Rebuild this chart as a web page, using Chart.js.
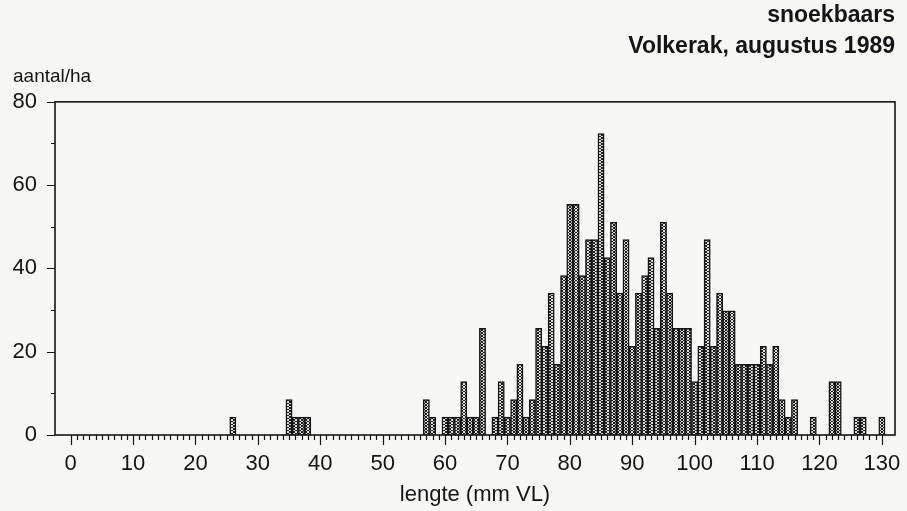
<!DOCTYPE html>
<html>
<head>
<meta charset="utf-8">
<title>snoekbaars – Volkerak, augustus 1989</title>
<script src="https://cdn.jsdelivr.net/npm/chart.js@4.4.1/dist/chart.umd.min.js"></script>
<style>
  html, body { margin: 0; padding: 0; background: #f7f7f5; }
  canvas { display: block; }
</style>
</head>
<body>
<canvas id="chart" width="907" height="511"></canvas>
<script>
// Length classes (mm VL) that hold fish, and their density in aantal/ha
const lengte = [
  26, 35, 36, 37, 38,
  57, 58, 60, 61, 62, 63, 64, 65, 66, 68, 69,
  70, 71, 72, 73, 74, 75, 76, 77, 78, 79,
  80, 81, 82, 83, 84, 85, 86, 87, 88, 89,
  90, 91, 92, 93, 94, 95, 96, 97, 98, 99,
  100, 101, 102, 103, 104, 105, 106, 107, 108, 109,
  110, 111, 112, 113, 114, 115, 116, 119,
  122, 123, 126, 127, 130
];
const aantal = [
  4.3, 8.5, 4.3, 4.3, 4.3,
  8.5, 4.3, 4.3, 4.3, 4.3, 12.8, 4.3, 4.3, 25.6, 4.3, 12.8,
  4.3, 8.5, 17.0, 4.3, 8.5, 25.6, 21.3, 34.1, 17.0, 38.3,
  55.4, 55.4, 38.3, 46.9, 46.9, 72.4, 42.6, 51.1, 34.1, 46.9,
  21.3, 34.1, 38.3, 42.6, 25.6, 51.1, 34.1, 25.6, 25.6, 25.6,
  12.8, 21.3, 46.9, 21.3, 34.1, 29.8, 29.8, 17.0, 17.0, 17.0,
  17.0, 21.3, 17.0, 21.3, 8.5, 4.3, 8.5, 4.3,
  12.8, 12.8, 4.3, 4.3, 4.3
];

// Axis tick labels
const xTickLabels = [0, 10, 20, 30, 40, 50, 60, 70, 80, 90, 100, 110, 120, 130];
const yTickLabels = [0, 20, 40, 60, 80];

const titleLines = ['snoekbaars', 'Volkerak, augustus 1989'];
const yTitle = 'aantal/ha';
const xTitle = 'lengte (mm VL)';

const ink = '#141414';
const family = '"Liberation Sans", Arial, Helvetica, sans-serif';

// Stippled fill for the bars: small rings repeated in a tile
function stipple() {
  const c = document.createElement('canvas');
  c.width = 4; c.height = 3;
  const g = c.getContext('2d');
  g.fillStyle = '#dddddb';
  g.fillRect(0, 0, 4, 3);
  g.fillStyle = '#1f1f1f';
  [[1,0],[2,0],[0,1],[3,1],[1,2],[2,2]].forEach(([px, py]) => g.fillRect(px, py, 1, 1));
  return g.createPattern(c, 'repeat');
}

// Frame round the plot plus minor/major tick marks on both axes
const axisMarks = {
  id: 'axisMarks',
  afterDraw(chart) {
    const { ctx, chartArea: a, scales: { x, y } } = chart;
    ctx.save();
    ctx.strokeStyle = ink;
    ctx.lineWidth = 1.6;
    ctx.strokeRect(a.left, a.top, a.right - a.left, a.bottom - a.top);
    ctx.lineWidth = 1.2;
    ctx.beginPath();
    for (let v = xTickLabels[0]; v <= xTickLabels[xTickLabels.length - 1]; v++) {
      const px = Math.round(x.getPixelForValue(v)) + 0.5;
      const len = v % 10 === 0 ? 10 : 5;
      ctx.moveTo(px, a.bottom);
      ctx.lineTo(px, a.bottom + len);
    }
    for (let v = 0; v <= 80; v += 10) {
      const py = Math.round(y.getPixelForValue(v)) + 0.5;
      const len = v % 20 === 0 ? 8 : 4;
      ctx.moveTo(a.left, py);
      ctx.lineTo(a.left - len, py);
    }
    ctx.stroke();
    ctx.restore();
  }
};

new Chart(document.getElementById('chart'), {
  type: 'bar',
  data: {
    datasets: [{
      data: lengte.map((v, i) => ({ x: v, y: aantal[i] })),
      backgroundColor: stipple(),
      borderColor: ink,
      borderWidth: 1.5,
      barPercentage: 1,
      categoryPercentage: 1
    }]
  },
  options: {
    responsive: false,
    animation: false,
    layout: { padding: { left: 13, right: 12, top: 0, bottom: 0 } },
    plugins: {
      legend: { display: false },
      tooltip: { enabled: false },
      title: {
        display: true,
        text: titleLines,
        align: 'end',
        color: ink,
        font: { family, size: 23, weight: 'bold', lineHeight: 1.35 },
        padding: { top: 0, bottom: 0 }
      },
      subtitle: {
        display: true,
        text: yTitle,
        align: 'start',
        color: ink,
        font: { family, size: 19, lineHeight: 1.25 },
        padding: { top: 3, bottom: 13 }
      }
    },
    scales: {
      x: {
        type: 'linear',
        min: -2.5,
        max: 132.1,
        offset: false,
        grid: { display: false, drawTicks: false },
        border: { display: false },
        afterBuildTicks(scale) { scale.ticks = xTickLabels.map(v => ({ value: v })); },
        afterFit(scale) {
          scale.height = 76;
          scale.paddingLeft = 0;
          scale.paddingRight = 0;
        },
        ticks: {
          color: ink,
          font: { family, size: 22 },
          padding: 16,
          maxRotation: 0,
          autoSkip: false
        },
        title: {
          display: true,
          text: xTitle,
          color: ink,
          font: { family, size: 22, lineHeight: 1.2 },
          padding: { top: 0, bottom: 3 }
        }
      },
      y: {
        min: 0,
        max: 80,
        grid: { display: false, drawTicks: false },
        border: { display: false },
        afterBuildTicks(scale) { scale.ticks = yTickLabels.map(v => ({ value: v })); },
        afterFit(scale) {
          scale.width = 42;
          scale.paddingTop = 0;
          scale.paddingBottom = 0;
        },
        ticks: {
          color: ink,
          font: { family, size: 22 },
          padding: 18
        }
      }
    }
  },
  plugins: [axisMarks]
});
</script>
</body>
</html>
